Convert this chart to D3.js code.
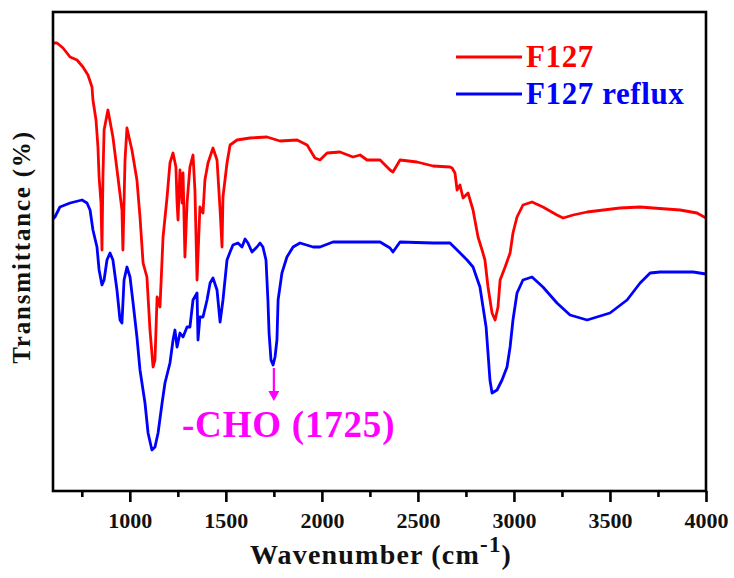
<!DOCTYPE html>
<html><head><meta charset="utf-8">
<script src="https://cdn.jsdelivr.net/npm/d3@7"></script>
<style>body{margin:0;background:#fff}svg{display:block}</style>
</head><body>
<svg id="c" width="734" height="578"></svg>
<script>
const seriesNames = ["F127", "F127 reflux"];
const seriesColors = ["#ff0000", "#0000ff"];
const xTicks = [1000, 1500, 2000, 2500, 3000, 3500, 4000];
const xMinorTicks = [750, 1250, 1750, 2250, 2750, 3250, 3750];

const f127Wavenumber = [600,621,652,689,725,756,782,803,808,824,834,840,850,855,860,866,886,912,938,959,964,975,985,1011,1037,1053,1069,1089,1105,1121,1131,1142,1157,1173,1194,1209,1225,1240,1246,1251,1261,1272,1277,1287,1298,1313,1329,1339,1350,1365,1381,1391,1407,1433,1454,1470,1480,1485,1506,1522,1558,1626,1714,1782,1871,1923,1964,1990,2027,2094,2162,2199,2235,2303,2355,2370,2407,2495,2579,2667,2678,2693,2704,2719,2735,2761,2787,2813,2834,2849,2865,2886,2902,2917,2928,2954,2980,2995,3016,3047,3094,3151,3224,3256,3308,3381,3552,3657,3724,3865,3953,4000];
const f127Transmittance = [44.8,44.8,44.3,43.4,43.1,42.4,41.6,40.4,39.1,37.1,34.4,31.4,28.8,24.1,31.4,36.1,38.1,35.4,31.4,28.1,24.1,33.1,36.3,34.1,31.1,27.4,22.8,21.4,16.1,12.4,13.1,19.4,18.4,25.4,29.4,32.8,33.8,32.4,28.8,27.1,32.1,28.8,31.8,23.4,28.8,32.4,33.6,30.1,21.1,28.4,27.8,31.1,32.8,34.3,33.1,28.1,24.4,29.4,32.8,34.6,35.1,35.3,35.4,35.0,35.1,34.6,33.3,33.1,33.8,33.9,33.4,33.6,33.1,33.1,32.1,31.9,33.1,32.9,32.5,32.4,32.3,31.8,30.1,30.6,29.3,29.8,28.1,25.4,24.1,23.1,20.4,17.8,17.1,18.4,21.1,22.4,23.8,25.8,27.4,28.6,28.9,28.4,27.6,27.3,27.6,27.9,28.3,28.4,28.3,28.1,27.8,27.3];

const refluxWavenumber = [600,610,636,689,751,777,793,808,829,840,855,866,881,897,912,933,949,959,970,985,1001,1017,1037,1053,1079,1095,1115,1131,1147,1168,1183,1209,1225,1235,1246,1261,1277,1298,1313,1329,1350,1355,1365,1381,1402,1418,1433,1454,1470,1485,1506,1522,1537,1563,1584,1600,1615,1636,1662,1678,1693,1709,1719,1725,1735,1746,1756,1766,1772,1792,1818,1850,1886,1954,1990,2058,2303,2355,2370,2407,2579,2667,2704,2756,2787,2823,2839,2855,2865,2875,2886,2912,2938,2964,2980,2995,3016,3047,3094,3151,3224,3292,3381,3500,3589,3657,3709,3761,3933,4000];
const refluxTransmittance = [27.2,27.4,28.4,28.8,29.1,28.8,28.1,26.1,24.4,22.1,20.6,21.1,23.1,23.8,23.1,20.1,17.1,16.8,21.1,22.4,21.4,18.8,15.4,12.1,8.8,5.8,4.1,4.4,5.8,8.8,10.8,12.8,15.1,16.1,14.4,15.8,15.4,16.4,16.4,19.1,19.8,15.1,17.4,17.4,19.1,20.8,21.3,20.1,16.9,19.1,23.1,23.9,24.6,24.8,24.4,25.2,24.8,23.9,24.4,24.8,24.4,23.1,19.1,15.8,13.1,12.6,13.4,15.1,19.1,21.8,23.4,24.4,24.8,24.4,24.4,24.9,24.9,24.3,23.9,24.9,24.8,24.8,24.1,23.1,22.4,20.4,18.4,16.4,13.8,11.1,9.8,10.1,11.1,12.4,14.4,17.1,19.8,21.1,21.4,20.4,18.8,17.6,17.1,17.8,19.1,20.8,21.8,21.9,21.9,21.7];

const annotationText = "-CHO (1725)";
const annotationX = 1750;
const annotationYFrom = 12.3;
const annotationYTo = 9.0;

const svg = d3.select("#c");
const L = 53, R = 706, T = 12, B = 491;
const x = d3.scaleLinear().domain([600, 4000]).range([L, R]);
const y = d3.scaleLinear().domain([0, 47.9]).range([B, T]);
const font = "'Liberation Serif','Times New Roman',serif";

const series = [
  {w: f127Wavenumber, t: f127Transmittance},
  {w: refluxWavenumber, t: refluxTransmittance}
];
const line = d3.line().x(d => x(d[0])).y(d => y(d[1]));
series.forEach((s, i) => {
  const pts = s.w.map((w, j) => [w, s.t[j]]);
  svg.append("path").attr("d", line(pts)).attr("fill", "none")
    .attr("stroke", seriesColors[i]).attr("stroke-width", 2.8)
    .attr("stroke-linejoin", "round");
});

// frame
svg.append("rect").attr("x", L).attr("y", T).attr("width", R - L).attr("height", B - T)
  .attr("fill", "none").attr("stroke", "#000").attr("stroke-width", 2.6);

// x axis
const ax = svg.append("g").attr("transform", `translate(0,${B})`)
  .call(d3.axisBottom(x).tickValues(xTicks).tickSize(11).tickPadding(10).tickFormat(d3.format("d")));
ax.select(".domain").remove();
ax.selectAll("line").attr("stroke", "#000").attr("stroke-width", 2.6);
ax.selectAll("text").attr("font-family", font).attr("font-weight", "bold").attr("font-size", 22).attr("fill", "#111");
const axm = svg.append("g").attr("transform", `translate(0,${B})`)
  .call(d3.axisBottom(x).tickValues(xMinorTicks).tickSize(6).tickFormat(""));
axm.select(".domain").remove();
axm.selectAll("line").attr("stroke", "#000").attr("stroke-width", 2.6);

// axis titles
const xt = svg.append("text").attr("x", 381).attr("y", 564).attr("text-anchor", "middle")
  .attr("font-family", font).attr("font-weight", "bold").attr("font-size", 28)
  .attr("letter-spacing", 1.2).attr("fill", "#111");
xt.append("tspan").text("Wavenumber (cm");
xt.append("tspan").attr("dy", -12).attr("font-size", 23).text("-1");
xt.append("tspan").attr("dy", 12).text(")");

svg.append("text").attr("transform", "translate(30,247) rotate(-90)").attr("text-anchor", "middle")
  .attr("font-family", font).attr("font-weight", "bold").attr("font-size", 25)
  .attr("letter-spacing", 1.8).attr("fill", "#111")
  .text("Transmittance (%)");

// legend
const legY = [57, 94];
seriesNames.forEach((n, i) => {
  svg.append("line").attr("x1", 456).attr("x2", 522).attr("y1", legY[i]).attr("y2", legY[i])
    .attr("stroke", seriesColors[i]).attr("stroke-width", 2.8);
  svg.append("text").attr("x", 526).attr("y", legY[i] + 10).attr("font-family", font)
    .attr("font-weight", "bold").attr("font-size", 31).attr("letter-spacing", 0.6)
    .attr("fill", seriesColors[i]).text(n);
});

// annotation
const ac = "#ff00ff";
const axp = x(annotationX);
svg.append("line").attr("x1", axp).attr("x2", axp).attr("y1", y(annotationYFrom)).attr("y2", y(annotationYTo) - 6)
  .attr("stroke", ac).attr("stroke-width", 2.2);
svg.append("path").attr("d", `M${axp - 5.5},${y(annotationYTo) - 10} L${axp},${y(annotationYTo)} L${axp + 5.5},${y(annotationYTo) - 10} Z`)
  .attr("fill", ac);
svg.append("text").attr("x", 182).attr("y", 437).attr("font-family", font).attr("font-weight", "bold")
  .attr("font-size", 37).attr("letter-spacing", 0.8).attr("fill", ac).text(annotationText);
</script>
</body></html>
